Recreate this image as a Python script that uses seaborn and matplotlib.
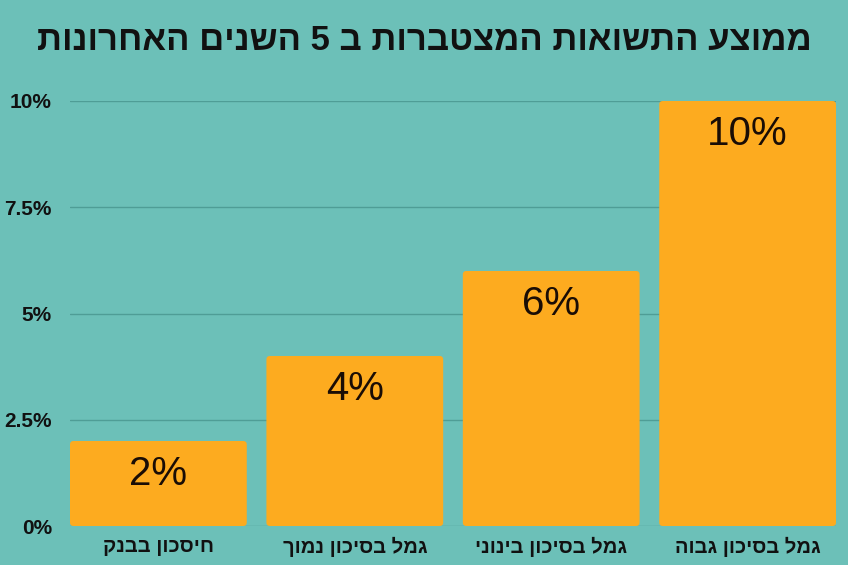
import matplotlib
matplotlib.use("Agg")
import matplotlib.pyplot as plt
from matplotlib.patches import FancyBboxPatch
import seaborn as sns
import pandas as pd

# ---- data ----
categories = ["חיסכון בבנק", "גמל בסיכון נמוך", "גמל בסיכון בינוני", "גמל בסיכון גבוה"]
values = [2, 4, 6, 10]
y_ticks = [0, 2.5, 5, 7.5, 10]
y_tick_labels = ["0%", "2.5%", "5%", "7.5%", "10%"]
title = "ממוצע התשואות המצטברות ב 5 השנים האחרונות"

BG = "#6cc0b8"
BAR = "#fdab1f"
GRID = "#4f9d96"
TXT = "#111111"


def visual(s):
    # matplotlib has no bidi support: reverse for right-to-left display
    return s[::-1]


sns.set_style("white")
plt.rcParams['font.family'] = ['Liberation Sans', 'DejaVu Sans']

fig = plt.figure(figsize=(8.48, 5.65), dpi=100, facecolor=BG)
ax = fig.add_axes([70 / 848, 39 / 565, 766 / 848, 425 / 565])
ax.set_facecolor(BG)

df = pd.DataFrame({"cat": [visual(c) for c in categories], "val": values})
sns.barplot(data=df, x="cat", y="val", color=BAR, width=0.9, saturation=1,
            linewidth=0, ax=ax, zorder=2)

# rounded corners
for p in list(ax.patches):
    x, y = p.get_x(), p.get_y()
    w, h = p.get_width(), p.get_height()
    p.set_visible(False)
    fb = FancyBboxPatch((x, y), w, h, boxstyle="round,pad=0,rounding_size=0.018",
                        mutation_aspect=196 / 42.5, facecolor=BAR, edgecolor="none", zorder=2)
    ax.add_patch(fb)

ax.set_xlim(-0.45, 3.45)
ax.set_ylim(0, 10)
ax.set_yticks(y_ticks)
ax.set_yticklabels(y_tick_labels, fontsize=15, fontweight="bold", color=TXT)
ax.yaxis.grid(True, color=GRID, linewidth=1)
ax.xaxis.grid(False)
ax.set_axisbelow(True)
for s in ax.spines.values():
    s.set_visible(False)
ax.tick_params(axis="both", length=0)
ax.tick_params(axis="y", pad=13)
ax.tick_params(axis="x", pad=8)
for lbl in ax.get_xticklabels():
    lbl.set_fontsize(14.5)
    lbl.set_fontweight("bold")
    lbl.set_color(TXT)
ax.set_xlabel("")
ax.set_ylabel("")

for i, v in enumerate(values):
    ax.annotate(f"{v}%", xy=(i, v), xytext=(0, -24), textcoords="offset points",
                ha="center", va="center", fontsize=29, color="#1a0d05", zorder=3)

fig.text(0.5, 1 - 41 / 565, visual(title), ha="center", va="center",
         fontsize=25, fontweight="bold", color=TXT)

fig.savefig("out.png", dpi=100, facecolor=BG)
